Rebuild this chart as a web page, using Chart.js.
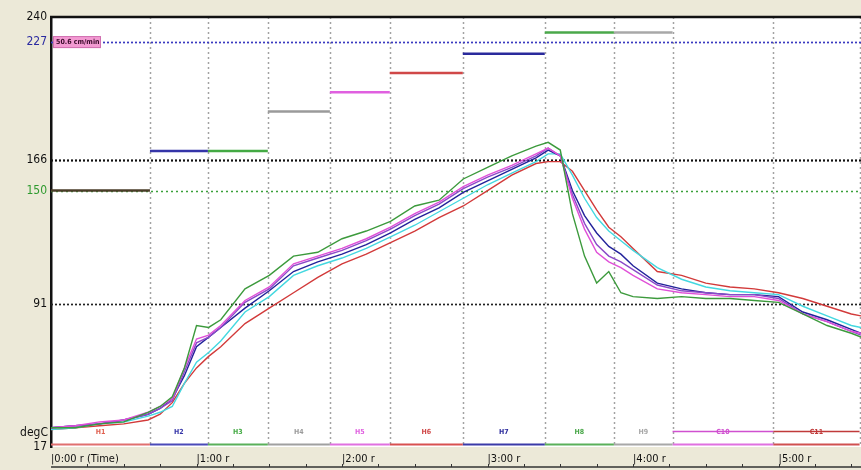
<!DOCTYPE html>
<html>
<head>
<meta charset="utf-8">
<title>Reflow profile</title>
<script src="https://cdn.jsdelivr.net/npm/chart.js@4.4.1/dist/chart.umd.min.js"></script>
<style>
  html, body { margin: 0; padding: 0; background: #ece9d8; }
  canvas { display: block; }
</style>
</head>
<body>
<canvas id="profile" width="861" height="470"></canvas>
<script>
// sample times in seconds
const times = [0, 10, 20, 30, 40, 45, 50, 55, 60, 65, 70, 80, 90, 100, 110, 120, 130, 140, 150, 160,
  170, 180, 190, 200, 205, 210, 215, 220, 225, 230, 235, 240, 250, 260, 270, 280, 290, 300, 310, 320, 330, 334];

// thermocouple curves (degC)
const tcGreen = [27, 27, 29, 30, 35, 38, 43, 58, 80, 79, 83, 99, 106, 116, 118, 125, 129, 134, 142, 145,
  156, 162, 168, 173, 175, 171, 138, 116, 102, 108, 97, 95, 94, 95, 94, 94, 93, 92, 86, 80, 76, 74];
const tcMagenta = [27, 28, 30, 31, 35, 38, 42, 58, 73, 75, 80, 93, 100, 112, 116, 120, 125, 131, 138, 144,
  152, 158, 163, 169, 172, 168, 146, 130, 118, 113, 110, 106, 99, 97, 96, 95, 95, 93, 86, 82, 77, 76];
const tcPurple = [27, 28, 29, 31, 34, 37, 41, 56, 71, 74, 79, 92, 99, 111, 115, 119, 124, 130, 137, 143,
  151, 157, 162, 168, 172, 168, 148, 133, 122, 116, 113, 109, 101, 98, 97, 96, 96, 94, 86, 82, 77, 75];
const tcBlue = [27, 28, 29, 31, 34, 37, 42, 54, 69, 74, 79, 89, 98, 108, 113, 117, 122, 128, 135, 141,
  149, 155, 161, 167, 171, 168, 150, 137, 128, 121, 117, 111, 102, 99, 97, 96, 96, 95, 87, 83, 78, 76];
const tcCyan = [26, 27, 29, 30, 33, 35, 38, 50, 61, 66, 72, 87, 95, 106, 111, 115, 120, 126, 132, 139,
  146, 153, 159, 165, 169, 169, 158, 146, 136, 129, 124, 119, 110, 104, 100, 98, 97, 96, 90, 85, 80, 79];
const tcRed = [26, 27, 28, 29, 31, 34, 40, 50, 58, 64, 69, 81, 89, 97, 105, 112, 117, 123, 129, 136,
  142, 150, 158, 164, 165, 165, 160, 150, 140, 131, 126, 120, 108, 106, 102, 100, 99, 97, 94, 90, 86, 85];

// oven zones
const zoneNames = ['H1', 'H2', 'H3', 'H4', 'H5', 'H6', 'H7', 'H8', 'H9', 'C10', 'C11'];
const zoneEdges = [0, 40.8, 64.7, 89.4, 115.0, 139.7, 169.8, 203.6, 232.1, 256.3, 297.8, 333.4];
const zoneSetpoints = [150, 170.5, 170.5, 191, 201, 211, 221, 232, 232, 25, 25];
const zoneColors = ['#4a3c28', '#3535a8', '#44aa44', '#9a9a9a', '#e060e0', '#d04848', '#2a2a9c',
  '#4aa84a', '#a8a8a8', '#d050d0', '#c03a3a'];
const beltColors = ['#e07070', '#4a4ab8', '#5ab05a', '#a0a0a0', '#e070e0', '#d85050', '#3a3aa8',
  '#5ab05a', '#a8a8a8', '#e070e0', '#d05050'];
const beltLevel = 18.3;
const zoneLabelLevel = 24.8;

// reference levels
const refLevels = [227, 166, 150, 91];
const refColors = ['#3a3ac0', '#111111', '#3aa03a', '#222222'];

// axes
const yTicks = [17, 91, 150, 166, 227, 240];
const yTickColors = { 17: '#111', 91: '#111', 150: '#2e9a2e', 166: '#111', 227: '#2a2aa0', 240: '#111' };
const xTicks = [0, 60, 120, 180, 240, 300];
const xTickLabels = ['|0:00 r (Time)', '|1:00 r', '|2:00 r', '|3:00 r', '|4:00 r', '|5:00 r'];
const speedLabel = '50.6 cm/min';

const narrow = "'Liberation Sans Narrow', 'DejaVu Sans Condensed', Arial, sans-serif";

function pts(vals) {
  return vals.map((v, i) => ({ x: times[i], y: v }));
}

function curve(label, vals, color) {
  return {
    label: label,
    data: pts(vals),
    borderColor: color,
    borderWidth: 1.4,
    pointRadius: 0,
    tension: 0,
    fill: false,
    order: 0
  };
}

const datasets = [
  curve('TC1', tcGreen, '#3c9a3c'),
  curve('TC2', tcMagenta, '#e050d8'),
  curve('TC3', tcPurple, '#8a4ac8'),
  curve('TC4', tcBlue, '#22229a'),
  curve('TC5', tcCyan, '#44d8e0'),
  curve('TC6', tcRed, '#d23a3a')
];

for (let i = 0; i < zoneNames.length; i++) {
  datasets.push({
    label: zoneNames[i] + ' set',
    data: [{ x: zoneEdges[i], y: zoneSetpoints[i] }, { x: zoneEdges[i + 1], y: zoneSetpoints[i] }],
    borderColor: zoneColors[i],
    borderWidth: i < 9 ? 2.5 : 1.5,
    pointRadius: 0,
    order: 1
  });
  datasets.push({
    label: zoneNames[i] + ' belt',
    data: [{ x: zoneEdges[i], y: beltLevel }, { x: zoneEdges[i + 1], y: beltLevel }],
    borderColor: beltColors[i],
    borderWidth: 2,
    pointRadius: 0,
    order: 1
  });
}

const profilePlugin = {
  id: 'profile',
  beforeDraw(chart) {
    const { ctx, chartArea: a } = chart;
    ctx.save();
    ctx.fillStyle = '#ece9d8';
    ctx.fillRect(0, 0, chart.width, chart.height);
    ctx.fillStyle = '#ffffff';
    ctx.fillRect(a.left, a.top, a.right - a.left, a.bottom - a.top);
    ctx.restore();
  },
  beforeDatasetsDraw(chart) {
    const { ctx, chartArea: a, scales: { x, y } } = chart;
    ctx.save();
    ctx.beginPath();
    ctx.rect(a.left, a.top, a.right - a.left + 1, a.bottom - a.top);
    ctx.clip();

    // zone dividers
    ctx.strokeStyle = '#a2a2a2';
    ctx.lineWidth = 1.5;
    ctx.setLineDash([2, 3]);
    for (let i = 1; i < zoneEdges.length; i++) {
      const px = Math.round(x.getPixelForValue(zoneEdges[i])) + 0.5;
      ctx.beginPath();
      ctx.moveTo(px, a.top);
      ctx.lineTo(px, a.bottom);
      ctx.stroke();
    }

    // reference levels
    for (let i = 0; i < refLevels.length; i++) {
      const py = Math.round(y.getPixelForValue(refLevels[i])) + 0.5;
      ctx.strokeStyle = refColors[i];
      ctx.lineWidth = i === 1 ? 2.2 : 1.7;
      ctx.setLineDash(i === 2 ? [2, 3] : [2, 2]);
      ctx.beginPath();
      ctx.moveTo(a.left, py);
      ctx.lineTo(a.right, py);
      ctx.stroke();
    }
    ctx.restore();
  },
  afterDraw(chart) {
    const { ctx, chartArea: a, scales: { x, y } } = chart;
    ctx.save();

    // top frame line
    ctx.strokeStyle = '#111';
    ctx.lineWidth = 2.5;
    ctx.beginPath();
    ctx.moveTo(a.left - 1, a.top);
    ctx.lineTo(a.right, a.top);
    ctx.stroke();

    // bottom time rule with minor ticks
    const by = chart.height - 3;
    ctx.lineWidth = 1.5;
    ctx.strokeStyle = '#333';
    ctx.beginPath();
    ctx.moveTo(a.left, by);
    ctx.lineTo(a.right, by);
    ctx.stroke();
    ctx.lineWidth = 1;
    for (let t = 15; t < x.max; t += 15) {
      const px = Math.round(x.getPixelForValue(t)) + 0.5;
      ctx.beginPath();
      ctx.moveTo(px, by);
      ctx.lineTo(px, by - 3);
      ctx.stroke();
    }

    // unit label
    ctx.fillStyle = '#111';
    ctx.font = '12px ' + narrow;
    ctx.textAlign = 'right';
    ctx.textBaseline = 'middle';
    ctx.fillText('degC', a.left - 3, y.getPixelForValue(zoneLabelLevel) + 1);

    // conveyor speed tag
    const ty = y.getPixelForValue(227);
    ctx.fillStyle = '#f39ad2';
    ctx.fillRect(a.left + 2, ty - 6, 48, 12);
    ctx.strokeStyle = '#d070b0';
    ctx.lineWidth = 1;
    ctx.strokeRect(a.left + 2.5, ty - 5.5, 47, 11);
    ctx.fillStyle = '#3a0a2a';
    ctx.font = 'bold 7px ' + narrow;
    ctx.textAlign = 'left';
    ctx.fillText(speedLabel, a.left + 5, ty + 0.5);

    // zone names
    ctx.font = 'bold 7px ' + narrow;
    ctx.textAlign = 'center';
    const ly = y.getPixelForValue(zoneLabelLevel);
    for (let i = 0; i < zoneNames.length; i++) {
      const mid = (zoneEdges[i] + zoneEdges[i + 1]) / 2;
      ctx.fillStyle = zoneColors[i] === '#4a3c28' ? '#e06050' : zoneColors[i];
      ctx.fillText(zoneNames[i], x.getPixelForValue(mid), ly);
    }
    ctx.restore();
  }
};

new Chart(document.getElementById('profile'), {
  type: 'line',
  data: { datasets: datasets },
  plugins: [profilePlugin],
  options: {
    responsive: false,
    devicePixelRatio: 1,
    animation: false,
    layout: { padding: { top: 17, right: 0, left: 0, bottom: 0 } },
    plugins: {
      legend: { display: false },
      tooltip: { enabled: false }
    },
    scales: {
      x: {
        type: 'linear',
        min: 0,
        max: 334,
        afterFit(scale) { scale.height = 23; },
        afterBuildTicks(scale) { scale.ticks = xTicks.map(v => ({ value: v })); },
        grid: { display: false, drawTicks: false },
        border: { display: false },
        ticks: {
          align: 'start',
          padding: 6,
          autoSkip: false,
          maxRotation: 0,
          color: '#111',
          font: { family: narrow, size: 11 },
          callback: (v) => xTickLabels[xTicks.indexOf(v)]
        }
      },
      y: {
        type: 'linear',
        min: 17,
        max: 240,
        afterFit(scale) { scale.width = 51; },
        afterBuildTicks(scale) { scale.ticks = yTicks.map(v => ({ value: v })); },
        grid: { display: false, drawTicks: false },
        border: { display: true, color: '#111', width: 2.5 },
        ticks: {
          padding: 4,
          autoSkip: false,
          color: (c) => yTickColors[c.tick.value] || '#111',
          font: { family: narrow, size: 12 },
          callback: (v) => String(v)
        }
      }
    }
  }
});
</script>
</body>
</html>
